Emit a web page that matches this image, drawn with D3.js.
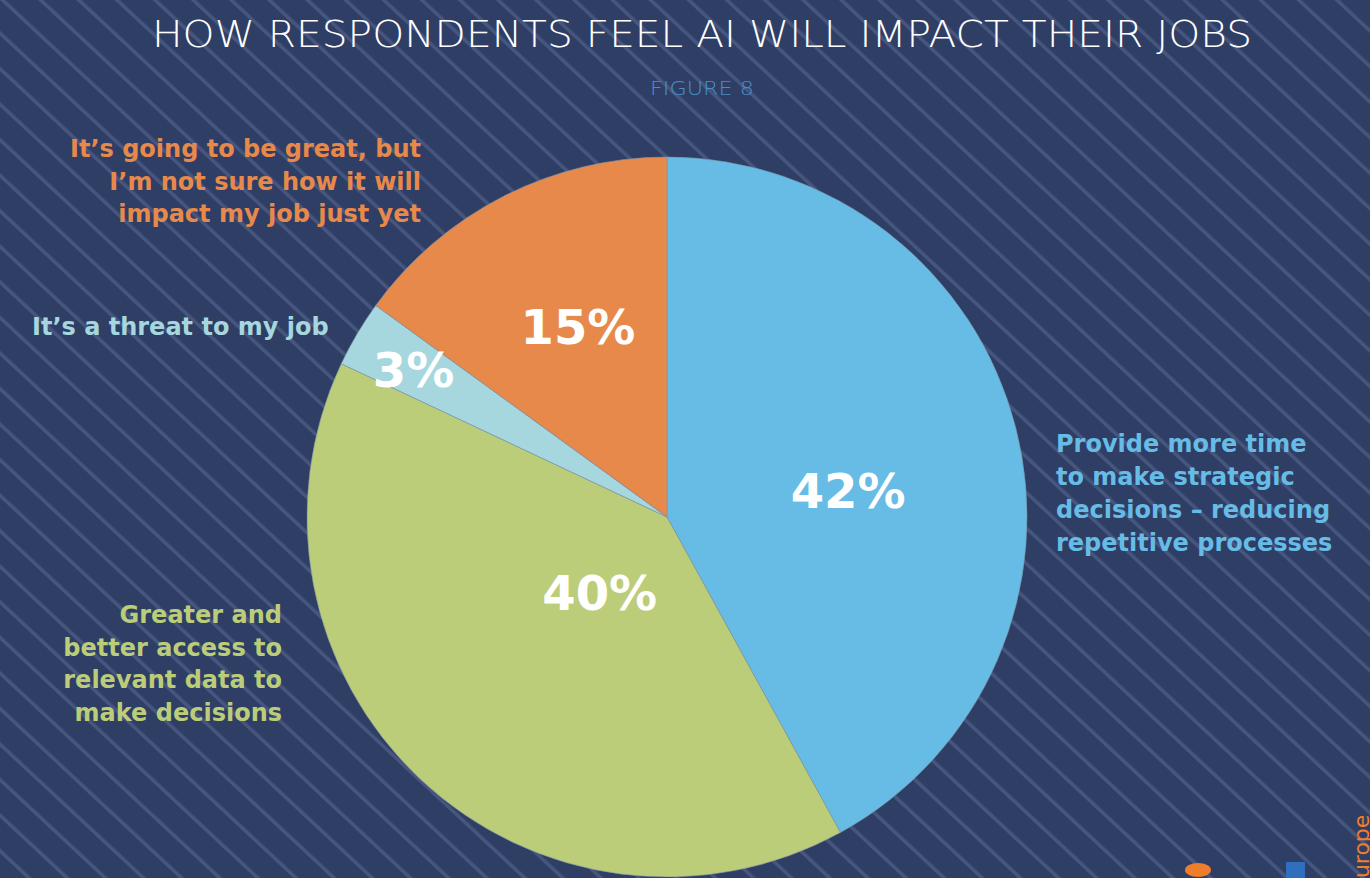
<!DOCTYPE html>
<html><head><meta charset="utf-8">
<script src="https://cdn.jsdelivr.net/npm/d3@7"></script>
<style>html,body{margin:0;padding:0;background:#2f3e65;overflow:hidden}</style>
</head><body><svg id="c" width="1370" height="878"></svg>
<script>
// ---- data ----
const title = "HOW RESPONDENTS FEEL AI WILL IMPACT THEIR JOBS";
const subtitle = "FIGURE 8";
const categories = [
  "Provide more time to make strategic decisions – reducing repetitive processes",
  "Greater and better access to relevant data to make decisions",
  "It’s a threat to my job",
  "It’s going to be great, but I’m not sure how it will impact my job just yet"
];
const values = [42, 40, 3, 15];
const valueLabels = ["42%", "40%", "3%", "15%"];
const categoryLines = [
  ["Provide more time", "to make strategic", "decisions – reducing", "repetitive processes"],
  ["Greater and", "better access to", "relevant data to", "make decisions"],
  ["It’s a threat to my job"],
  ["It’s going to be great, but", "I’m not sure how it will", "impact my job just yet"]
];
const colors = ["#67bce6", "#bccd79", "#a6d7df", "#e8894c"];

// ---- layout (not data) ----
const W = 1370, H = 878;
const cx = 667, cy = 517, R = 360;
const valueLabelPlace = [ {da: 6.2, r: 183}, {da: -1.4, r: 101}, {da: -0.5, r: 293}, {da: 1.9, r: 210} ];
const catPlace = [
  {x: 1056, y: 452, anchor: "start", lh: 33},
  {x: 282, y: 623, anchor: "end", lh: 32.5},
  {x: 32, y: 335, anchor: "start", lh: 32.5},
  {x: 421, y: 157, anchor: "end", lh: 32.5}
];

const svg = d3.select("#c");
const defs = svg.append("defs");
const pat = defs.append("pattern").attr("id", "stripes")
  .attr("patternUnits", "userSpaceOnUse").attr("width", 26).attr("height", 26)
  .attr("patternTransform", "rotate(-47)");
pat.append("rect").attr("width", 26).attr("height", 26).attr("fill", "#2f3e65");
pat.append("rect").attr("x", 0).attr("width", 3.5).attr("height", 26).attr("fill", "#46567f");

svg.append("rect").attr("width", W).attr("height", H).attr("fill", "url(#stripes)");

const font = "'DejaVu Sans', sans-serif";

svg.append("text").attr("x", 702).attr("y", 47).attr("text-anchor", "middle")
  .attr("font-family", "'DejaVu Sans ExtraLight','DejaVu Sans',sans-serif").attr("font-weight", 200)
  .attr("font-size", 37).attr("fill", "#ffffff")
  .attr("textLength", 1100).attr("lengthAdjust", "spacingAndGlyphs")
  .text(title);

svg.append("text").attr("x", 702).attr("y", 95).attr("text-anchor", "middle")
  .attr("font-family", "'DejaVu Sans ExtraLight','DejaVu Sans',sans-serif").attr("font-weight", 200)
  .attr("font-size", 20).attr("fill", "#4a8ec9")
  .attr("textLength", 104).attr("lengthAdjust", "spacingAndGlyphs")
  .text(subtitle);

// pie
const data = values.map((v, i) => ({v, i}));
const pie = d3.pie().sort(null).value(d => d.v);
const arcs = pie(data);
const arc = d3.arc().innerRadius(0).outerRadius(R);
const g = svg.append("g").attr("transform", `translate(${cx},${cy})`);
g.selectAll("path.slice").data(arcs).join("path").attr("class", "slice")
  .attr("d", arc).attr("fill", d => colors[d.data.i])
  .attr("stroke", "#7d93a6").attr("stroke-width", 0.6);

g.selectAll("text.val").data(arcs).join("text").attr("class", "val")
  .each(function(d) {
    const p = valueLabelPlace[d.data.i];
    const a = (d.startAngle + d.endAngle) / 2 + p.da * Math.PI / 180;
    const c = d3.arc().innerRadius(p.r).outerRadius(p.r).startAngle(a).endAngle(a).centroid();
    d3.select(this).attr("x", c[0]).attr("y", c[1]);
  })
  .attr("dy", "0.36em").attr("text-anchor", "middle")
  .attr("font-family", font).attr("font-weight", 700).attr("font-size", 48)
  .attr("fill", "#ffffff").text(d => valueLabels[d.data.i]);

// category labels
categoryLines.forEach((lines, i) => {
  const p = catPlace[i];
  const t = svg.append("text").attr("text-anchor", p.anchor)
    .attr("font-family", font).attr("font-weight", 700).attr("font-size", 24)
    .attr("fill", colors[i]);
  lines.forEach((ln, k) => {
    t.append("tspan").attr("x", p.x).attr("y", p.y + k * p.lh).text(ln);
  });
});

// decorative remnants bottom-right
svg.append("ellipse").attr("cx", 1198).attr("cy", 870).attr("rx", 13).attr("ry", 7).attr("fill", "#ee7e2c");
svg.append("rect").attr("x", 1286).attr("y", 862).attr("width", 19).attr("height", 20).attr("fill", "#2f6fbf");
svg.append("text").attr("transform", "translate(1369,892) rotate(-90)")
  .attr("font-family", font).attr("font-size", 22).attr("fill", "#ee7e2c").text("Europe");
</script></body></html>
